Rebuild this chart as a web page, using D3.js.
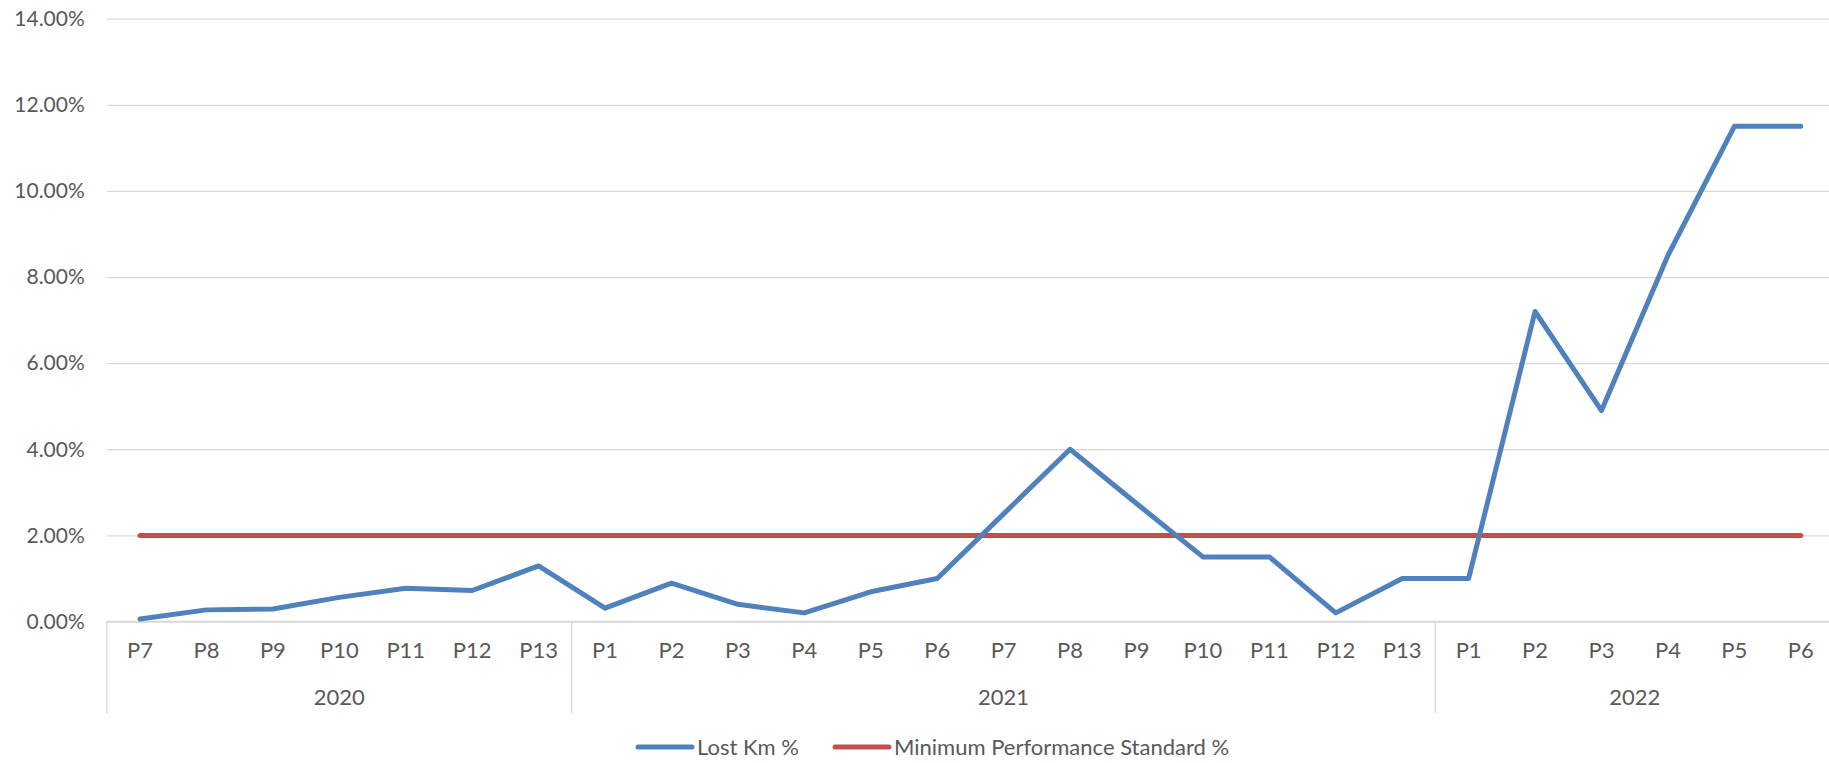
<!DOCTYPE html>
<html>
<head>
<meta charset="utf-8">
<script src="https://cdn.jsdelivr.net/npm/d3@7"></script>
<style>
  html, body { margin: 0; padding: 0; background: #fff; }
  svg { display: block; }
  text { font-family: Lato, "Liberation Sans", sans-serif; fill: #595959; }
</style>
</head>
<body>
<svg id="chart" width="1829" height="763"></svg>
<script>
// ---- data ----
const years = ["2020", "2021", "2022"];
const periods2020 = ["P7", "P8", "P9", "P10", "P11", "P12", "P13"];
const periods2021 = ["P1", "P2", "P3", "P4", "P5", "P6", "P7", "P8", "P9", "P10", "P11", "P12", "P13"];
const periods2022 = ["P1", "P2", "P3", "P4", "P5", "P6"];
const lostKm2020 = [0.06, 0.27, 0.29, 0.56, 0.77, 0.72, 1.29];
const lostKm2021 = [0.31, 0.89, 0.40, 0.20, 0.69, 1.00, 2.50, 4.00, 2.74, 1.50, 1.50, 0.20, 1.00];
const lostKm2022 = [1.00, 7.20, 4.90, 8.50, 11.50, 11.50];
const minStandard = 2.00;
const yTicks = [0, 2, 4, 6, 8, 10, 12, 14];
const seriesNames = ["Lost Km %", "Minimum Performance Standard %"];
const seriesColors = ["#4F81BD", "#C0504D"];

(function () {
// build rows
const groups = [periods2020, periods2021, periods2022];
const values = [lostKm2020, lostKm2021, lostKm2022];
const rows = [];
groups.forEach((ps, gi) => ps.forEach((p, i) => rows.push({
  key: years[gi] + "-" + p, year: years[gi], period: p, lost: values[gi][i], std: minStandard
})));

// ---- layout ----
const svg = d3.select("#chart");
const pLeft = 106.8, pRight = 1834, pTop = 18.7, pBottom = 621.5;
const x = d3.scaleBand().domain(rows.map(d => d.key)).range([pLeft, pRight]).paddingInner(0).paddingOuter(0);
const y = d3.scaleLinear().domain([0, 14]).range([pBottom, pTop]);
const cx = k => x(k) + x.bandwidth() / 2;
const fontFam = 'Lato, "Liberation Sans", sans-serif';
const fs = 22;

// gridlines + y labels
const yAxis = d3.axisLeft(y).tickValues(yTicks)
  .tickFormat(d => d.toFixed(2) + "%")
  .tickSize(-(pRight - pLeft)).tickPadding(22);
const ya = svg.append("g").attr("transform", `translate(${pLeft},0)`).call(yAxis);
ya.select(".domain").remove();
ya.selectAll(".tick line").attr("stroke", "#D9D9D9").attr("stroke-width", 1.3);
ya.selectAll(".tick text").attr("font-size", 21).attr("fill", "#595959").attr("font-family", fontFam);

// category axis labels
const xAxis = d3.axisBottom(x).tickFormat(k => rows.find(r => r.key === k).period)
  .tickSize(0).tickPadding(21);
const xa = svg.append("g").attr("transform", `translate(0,${pBottom})`).call(xAxis);
xa.select(".domain").remove();
xa.selectAll(".tick text").attr("font-size", fs).attr("fill", "#595959").attr("font-family", fontFam);

// group separators
let idx = 0;
const bounds = [pLeft];
groups.forEach(ps => {
  idx += ps.length;
  bounds.push(idx >= rows.length ? pRight : x(rows[idx].key));
});
svg.append("g").selectAll("line").data(bounds).join("line")
  .attr("x1", d => d).attr("x2", d => d)
  .attr("y1", pBottom).attr("y2", 713)
  .attr("stroke", "#D9D9D9").attr("stroke-width", 1.3);
// axis line
svg.append("line").attr("x1", pLeft).attr("x2", pRight).attr("y1", pBottom).attr("y2", pBottom)
  .attr("stroke", "#D9D9D9").attr("stroke-width", 1.3);

// year labels
svg.append("g").selectAll("text").data(years).join("text")
  .attr("x", (d, i) => (bounds[i] + bounds[i + 1]) / 2)
  .attr("y", 697).attr("dy", "0.35em")
  .attr("text-anchor", "middle").attr("font-size", fs)
  .text(d => d);

// lines
const lineStd = d3.line().x(d => cx(d.key)).y(d => y(d.std));
const lineLost = d3.line().x(d => cx(d.key)).y(d => y(d.lost));
svg.append("path").datum(rows).attr("d", lineStd)
  .attr("fill", "none").attr("stroke", seriesColors[1]).attr("stroke-width", 5)
  .attr("stroke-linejoin", "round").attr("stroke-linecap", "round");
svg.append("path").datum(rows).attr("d", lineLost)
  .attr("fill", "none").attr("stroke", seriesColors[0]).attr("stroke-width", 5)
  .attr("stroke-linejoin", "round").attr("stroke-linecap", "round");

// legend
const legendX = [638, 835];
const lg = svg.append("g").selectAll("g").data(seriesNames).join("g")
  .attr("transform", (d, i) => `translate(${legendX[i]},747)`);
lg.append("line").attr("x1", 0).attr("x2", 54).attr("y1", 0).attr("y2", 0)
  .attr("stroke", (d, i) => seriesColors[i]).attr("stroke-width", 5).attr("stroke-linecap", "round");
lg.append("text").attr("x", 59).attr("y", 0).attr("dy", "0.35em").attr("font-size", fs).text(d => d);
})();
</script>
</body>
</html>
